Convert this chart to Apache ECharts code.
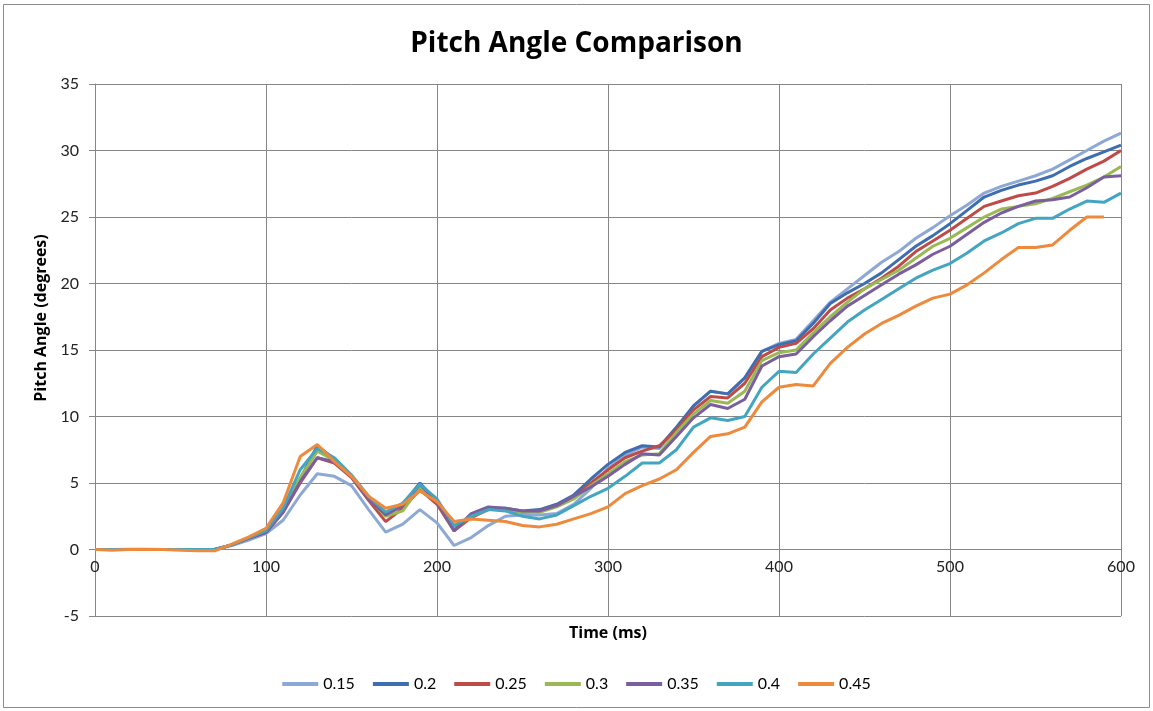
<!DOCTYPE html>
<html>
<head>
<meta charset="utf-8">
<script src="https://cdn.jsdelivr.net/npm/echarts@6/dist/echarts.min.js"></script>
<style>
html,body{margin:0;padding:0;background:#fff;}
#chart{width:1153px;height:711px;}
</style>
</head>
<body>
<div id="chart"></div>
<script>
// Time (ms), every 10 ms from 0 to 600
const times = [0,10,20,30,40,50,60,70,80,90,100,110,120,130,140,150,160,170,180,190,200,210,220,230,240,250,260,270,280,290,300,310,320,330,340,350,360,370,380,390,400,410,420,430,440,450,460,470,480,490,500,510,520,530,540,550,560,570,580,590,600];

const seriesNames = ['0.15','0.2','0.25','0.3','0.35','0.4','0.45'];

const s015 = [0,0,0.02,0,0,0,0,-0.02,0.3,0.7,1.2,2.2,4.1,5.7,5.5,4.8,3.0,1.3,1.9,3.0,2.0,0.3,0.9,1.8,2.5,2.6,2.6,2.7,3.4,4.6,6.1,7.1,7.7,7.6,9.1,10.8,11.9,11.7,12.9,14.9,15.5,15.8,17.2,18.6,19.6,20.6,21.6,22.4,23.4,24.2,25.1,25.9,26.8,27.3,27.7,28.1,28.6,29.3,30.0,30.7,31.3];
const s020 = [0,0,0,0,0,0,0,0,0.35,0.85,1.3,2.9,5.3,7.8,6.8,5.5,3.9,2.6,3.4,5.0,3.6,1.5,2.6,3.1,3.1,2.9,3.0,3.4,4.1,5.3,6.4,7.3,7.8,7.7,9.2,10.8,11.9,11.7,12.9,14.9,15.4,15.7,17.0,18.5,19.3,20.0,20.8,21.8,22.8,23.6,24.5,25.5,26.5,27.0,27.4,27.7,28.1,28.8,29.4,29.9,30.4];
const s025 = [0,0,0,0,0,0,0,0,0.35,0.85,1.3,2.8,5.0,6.9,6.5,5.4,3.7,2.1,3.1,4.5,3.4,1.4,2.4,3.0,3.0,2.8,2.9,3.3,3.9,5.0,6.0,6.9,7.4,7.8,9.0,10.5,11.5,11.4,12.5,14.5,15.2,15.5,16.6,18.0,18.9,19.6,20.4,21.3,22.4,23.2,24.0,24.9,25.8,26.2,26.6,26.8,27.3,27.9,28.6,29.2,30.0];
const s030 = [0,0,0,0,0,0,0,0,0.35,0.9,1.4,3.0,5.4,7.4,6.7,5.5,3.9,2.5,2.9,4.7,3.6,1.6,2.5,3.0,3.0,2.8,2.8,3.2,3.8,4.8,5.7,6.6,7.1,7.2,8.8,10.2,11.2,11.0,11.9,14.2,14.8,15.0,16.3,17.5,18.6,19.6,20.3,21.0,21.9,22.8,23.4,24.2,25.0,25.6,25.8,26.0,26.4,26.9,27.4,28.0,28.8];
const s035 = [0,0,0,0,0,0,0,0,0.35,0.85,1.3,2.8,5.1,6.9,6.6,5.5,3.8,2.6,3.3,4.9,3.6,1.4,2.7,3.2,3.1,2.9,2.9,3.3,4.0,4.7,5.5,6.4,7.2,7.1,8.5,9.9,10.9,10.6,11.3,13.8,14.5,14.7,16.0,17.2,18.3,19.1,19.9,20.7,21.4,22.2,22.8,23.7,24.6,25.3,25.8,26.2,26.3,26.5,27.2,28.0,28.1];
const s040 = [0,0,0,0,0,0,0,0,0.35,0.9,1.4,3.1,6.0,7.6,6.9,5.6,4.0,2.8,3.5,4.9,3.8,1.8,2.5,3.0,2.9,2.5,2.3,2.6,3.3,4.0,4.6,5.5,6.5,6.5,7.5,9.2,9.9,9.7,10.0,12.2,13.4,13.3,14.7,15.9,17.1,18.0,18.8,19.6,20.4,21.0,21.5,22.3,23.2,23.8,24.5,24.9,24.9,25.6,26.2,26.1,26.8];
const s045 = [0,-0.05,0,0.02,0,-0.05,-0.1,-0.1,0.4,0.95,1.6,3.5,7.0,7.9,6.6,5.5,4.0,3.1,3.4,4.4,3.6,2.1,2.3,2.2,2.1,1.8,1.7,1.9,2.3,2.7,3.2,4.2,4.8,5.3,6.0,7.3,8.5,8.7,9.2,11.1,12.2,12.4,12.3,14.0,15.2,16.2,17.0,17.6,18.3,18.9,19.2,19.9,20.8,21.8,22.7,22.7,22.9,24.0,25.0,25.0,null];

const seriesData = [s015,s020,s025,s030,s035,s040,s045];
const colors = ['#8EA8D6','#3F6EB0','#BE4B48','#98B954','#7B5E9E','#43A5C0','#EE8A3C'];

const yTicks = {min:-5, max:35, interval:5};
const xTicks = {min:0, max:600, interval:100};

const chart = echarts.init(document.getElementById('chart'), null, {renderer:'canvas'});

const series = seriesNames.map((name, i) => ({
  name: name,
  type: 'line',
  data: times.map((t, k) => [t, seriesData[i][k]]),
  showSymbol: false,
  symbol: 'none',
  connectNulls: false,
  lineStyle: {width: 3, color: colors[i]},
  itemStyle: {color: colors[i]},
  z: 2 + i
}));

chart.setOption({
  animation: false,
  backgroundColor: '#ffffff',
  color: colors,
  title: {
    text: 'Pitch Angle Comparison',
    left: 'center',
    top: 25,
    textStyle: {fontFamily: 'Open Sans', fontWeight: 'bold', fontSize: 28, color: '#000'}
  },
  graphic: [{
    type: 'rect',
    shape: {x: 3.5, y: 4.5, width: 1146, height: 703},
    style: {fill: 'none', stroke: '#8c8c8c', lineWidth: 1},
    silent: true, z: -10
  }],
  grid: {left: 95, right: 32, top: 84, bottom: 95, containLabel: false, outerBoundsMode: 'none'},
  legend: {
    bottom: 14,
    left: 'center',
    icon: 'rect',
    itemWidth: 36,
    itemHeight: 4,
    itemGap: 18,
    textStyle: {fontFamily: 'Lato', fontSize: 16, color: '#000'},
    data: seriesNames
  },
  xAxis: {
    type: 'value',
    position: 'bottom',
    offset: -66.5,
    min: xTicks.min, max: xTicks.max, interval: xTicks.interval,
    name: 'Time (ms)',
    nameLocation: 'middle',
    nameGap: 76,
    nameTextStyle: {fontFamily: 'Open Sans', fontWeight: 'bold', fontSize: 16, color: '#000', verticalAlign: 'top'},
    axisLine: {onZero: false, lineStyle: {color: '#868686', width: 1}},
    axisTick: {show: false},
    axisLabel: {fontFamily: 'Lato', fontSize: 16, color: '#222', margin: 9},
    splitLine: {show: true, lineStyle: {color: '#868686', width: 1}}
  },
  yAxis: {
    type: 'value',
    min: yTicks.min, max: yTicks.max, interval: yTicks.interval,
    name: 'Pitch Angle (degrees)',
    nameLocation: 'middle',
    nameGap: 42,
    nameRotate: 90,
    nameTextStyle: {fontFamily: 'Open Sans', fontWeight: 'bold', fontSize: 16, color: '#000', padding: [0, 0, 0, 64]},
    axisLine: {show: true, onZero: false, lineStyle: {color: '#868686', width: 1}},
    axisTick: {show: true, length: 6, lineStyle: {color: '#868686'}},
    axisLabel: {fontFamily: 'Lato', fontSize: 16, color: '#222', margin: 16},
    splitLine: {show: true, lineStyle: {color: '#868686', width: 1}}
  },
  series: series
});
</script>
</body>
</html>
